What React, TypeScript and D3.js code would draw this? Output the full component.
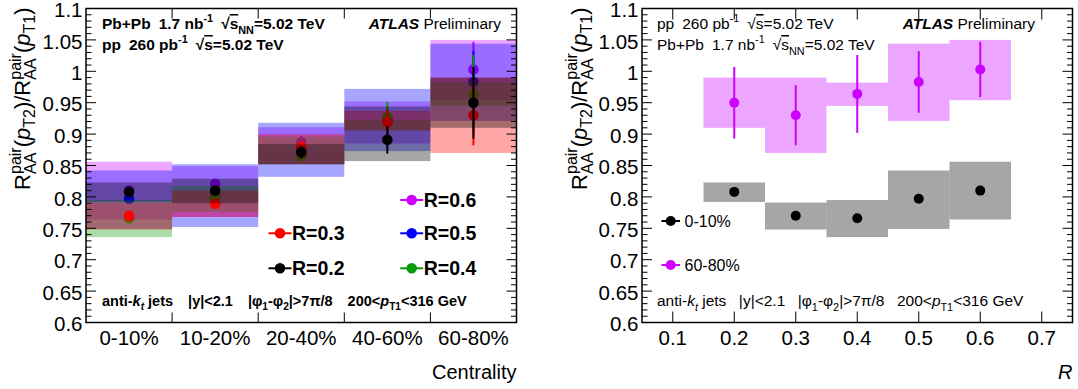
import React from "react";
import * as d3 from "d3";

// ---------------- data ----------------
const centralityBins = ["0-10%", "10-20%", "20-40%", "40-60%", "60-80%"];
const jetRadii = [0.2, 0.3, 0.4, 0.5, 0.6];
const radiusLabels = ["R=0.2", "R=0.3", "R=0.4", "R=0.5", "R=0.6"];
const radiusColors = ["#000000", "#ff0000", "#0a9a0a", "#0000ff", "#cc00ff"];

// values per centrality bin, one array per jet radius
const valR02 = [0.808, 0.81, 0.871, 0.891, 0.95];
const statR02 = [0.005, 0.007, 0.01, 0.022, 0.057];
const sysLoR02 = [0.792, 0.79, 0.852, 0.857, 0.91];
const sysHiR02 = [0.823, 0.829, 0.884, 0.944, 0.99];

const valR03 = [0.77, 0.789, 0.879, 0.919, 0.93];
const statR03 = [0.005, 0.007, 0.01, 0.02, 0.048];
const sysLoR03 = [0.748, 0.768, 0.852, 0.906, 0.87];
const sysHiR03 = [0.791, 0.81, 0.9, 0.937, 0.99];

const valR04 = [0.766, 0.798, 0.866, 0.927, 0.964];
const statR04 = [0.006, 0.007, 0.011, 0.024, 0.062];
const sysLoR04 = [0.736, 0.776, 0.852, 0.906, 0.945];
const sysHiR04 = [0.795, 0.817, 0.896, 0.923, 0.982];

const valR05 = [0.797, 0.801, 0.875, 0.921, 0.983];
const statR05 = [0.005, 0.007, 0.01, 0.02, 0.049];
const sysLoR05 = [0.749, 0.752, 0.832, 0.873, 0.921];
const sysHiR05 = [0.842, 0.852, 0.918, 0.972, 1.044];

const valR06 = [0.81, 0.821, 0.887, 0.923, 1.003];
const statR06 = [0.005, 0.007, 0.01, 0.02, 0.044];
const sysLoR06 = [0.764, 0.768, 0.852, 0.885, 0.954];
const sysHiR06 = [0.856, 0.849, 0.911, 0.952, 1.05];

const yMajorTicks = [0.6, 0.65, 0.7, 0.75, 0.8, 0.85, 0.9, 0.95, 1.0, 1.05, 1.1];
const yMinorTicks = d3.range(60, 111).map((k) => k / 100);
const rAxisTicks = [0.1, 0.2, 0.3, 0.4, 0.5, 0.6, 0.7];
const rightCentralities = ["0-10%", "60-80%"]; // bins 0 and 4
const rightColors = ["#000000", "#cc00ff"];

const series = [
  { val: valR02, stat: statR02, lo: sysLoR02, hi: sysHiR02 },
  { val: valR03, stat: statR03, lo: sysLoR03, hi: sysHiR03 },
  { val: valR04, stat: statR04, lo: sysLoR04, hi: sysHiR04 },
  { val: valR05, stat: statR05, lo: sysLoR05, hi: sysHiR05 },
  { val: valR06, stat: statR06, lo: sysLoR06, hi: sysHiR06 },
];

// ---------------- layout ----------------
const W = 1078;
const H = 389;
const TOP = 8.5;
const BOTTOM = 322.5;
const L1 = 86;
const R1 = 516.5;
const L2 = 642;
const R2 = 1072.5;
const FONT = "'Liberation Sans', Arial, Helvetica, sans-serif";
const ALPHA = 0.35;

const y = d3.scaleLinear().domain([0.6, 1.1]).range([BOTTOM, TOP]);
const xCent = d3.scaleBand().domain(centralityBins).range([L1, R1]).padding(0);
const xR = d3.scaleLinear().domain([0.05, 0.75]).range([L2, R2]);

type Seg = { t: string; sup?: boolean; sub?: boolean; it?: boolean; b?: boolean; dx?: number; ov?: boolean };

function Rich({ segs, size }: { segs: Seg[]; size: number }) {
  let cur = 0;
  return (
    <>
      {segs.map((s, i) => {
        const target = s.sup ? -0.42 * size : s.sub ? 0.3 * size : 0;
        const dy = target - cur;
        cur = target;
        const fs = s.sup || s.sub ? size * 0.7 : size;
        return (
          <tspan
            key={i}
            dy={dy}
            dx={s.dx || 0}
            fontSize={fs}
            fontStyle={s.it ? "italic" : undefined}
            fontWeight={s.b ? "bold" : undefined}
            textDecoration={s.ov ? "overline" : undefined}
          >
            {s.t}
          </tspan>
        );
      })}
    </>
  );
}

function fmt(v: number) {
  return String(+v.toFixed(2));
}

function YTitle({ x }: { x: number }) {
  const size = 22;
  const s = 16;
  const pairW = 1.667 * s;
  const aaW = 1.334 * s;
  return (
    <text transform="rotate(-90)" x={-TOP + 1} y={x} textAnchor="end" fontFamily={FONT} fontSize={size}>
      <tspan>R</tspan>
      <tspan fontSize={s} dy={-9.5}>pair</tspan>
      <tspan fontSize={s} dx={-pairW} dy={15.5}>AA</tspan>
      <tspan dx={pairW - aaW} dy={-6}>(</tspan>
      <tspan fontStyle="italic">p</tspan>
      <tspan fontSize={s} dy={5}>T2</tspan>
      <tspan dy={-5}>)/R</tspan>
      <tspan fontSize={s} dy={-9.5}>pair</tspan>
      <tspan fontSize={s} dx={-pairW} dy={15.5}>AA</tspan>
      <tspan dx={pairW - aaW} dy={-6}>(</tspan>
      <tspan fontStyle="italic">p</tspan>
      <tspan fontSize={s} dy={5}>T1</tspan>
      <tspan dy={-5}>)</tspan>
    </text>
  );
}

function YAxis({ left, right }: { left: number; right: number }) {
  return (
    <g>
      {yMinorTicks.map((v, i) => {
        const major = i % 5 === 0;
        const len = major ? 10 : 5.5;
        return (
          <g key={i}>
            <line x1={left} x2={left + len} y1={y(v)} y2={y(v)} stroke="#000" strokeWidth={1} />
            <line x1={right} x2={right - len} y1={y(v)} y2={y(v)} stroke="#000" strokeWidth={1} />
          </g>
        );
      })}
      {yMajorTicks.map((v, i) => (
        <text key={i} x={left - 3.5} y={y(v)} dy="0.42em" textAnchor="end" fontFamily={FONT} fontSize={20.5}>
          {fmt(v)}
        </text>
      ))}
    </g>
  );
}

function ErrorPoint({ cx, v, e, color, r }: { cx: number; v: number; e: number; color: string; r: number }) {
  return (
    <g>
      <line x1={cx} x2={cx} y1={y(v + e)} y2={y(v - e)} stroke={color} strokeWidth={2} />
      <circle cx={cx} cy={y(v)} r={r} fill={color} />
    </g>
  );
}

const cutsSegs = (gap: number): Seg[] => [
  { t: "anti-" },
  { t: "k", it: true },
  { t: "t", sub: true, it: true },
  { t: " jets" },
  { t: "|y|<2.1", dx: gap },
  { t: "|φ", dx: gap },
  { t: "1", sub: true },
  { t: "-φ" },
  { t: "2", sub: true },
  { t: "|>7π/8" },
  { t: "200<", dx: gap },
  { t: "p", it: true },
  { t: "T1", sub: true },
  { t: "<316 GeV" },
];

const pbpbSegs: Seg[] = [
  { t: "Pb+Pb" },
  { t: "1.7 nb", dx: 8 },
  { t: "-1", sup: true },
  { t: "√", dx: 8 },
  { t: "s", ov: true },
  { t: "NN", sub: true },
  { t: "=5.02 TeV" },
];

const ppSegs: Seg[] = [
  { t: "pp" },
  { t: "260 pb", dx: 8 },
  { t: "-1", sup: true },
  { t: "√", dx: 8 },
  { t: "s", ov: true },
  { t: "=5.02 TeV" },
];

function LeftPanel() {
  const order = [4, 3, 2, 1, 0];
  const bw = xCent.bandwidth();
  const legendPos = [
    { i: 4, x: 411.7, y: 200 },
    { i: 1, x: 280, y: 233.3 },
    { i: 3, x: 411.7, y: 233.3 },
    { i: 0, x: 280, y: 268.3 },
    { i: 2, x: 411.7, y: 268.3 },
  ];
  return (
    <g>
      {order.map((si) => {
        const s = series[si];
        const c = radiusColors[si];
        return (
          <g key={si}>
            {centralityBins.map((b, bi) => (
              <rect
                key={b}
                x={xCent(b)}
                width={bw}
                y={y(s.hi[bi])}
                height={y(s.lo[bi]) - y(s.hi[bi])}
                fill={c}
                fillOpacity={ALPHA}
              />
            ))}
            {centralityBins.map((b, bi) => (
              <ErrorPoint key={b} cx={(xCent(b) as number) + bw / 2} v={s.val[bi]} e={s.stat[bi]} color={c} r={5.3} />
            ))}
          </g>
        );
      })}
      <YAxis left={L1} right={R1} />
      {centralityBins.slice(1).map((b) => (
        <g key={b}>
          <line x1={xCent(b)} x2={xCent(b)} y1={BOTTOM} y2={BOTTOM - 10} stroke="#000" />
          <line x1={xCent(b)} x2={xCent(b)} y1={TOP} y2={TOP + 10} stroke="#000" />
        </g>
      ))}
      {centralityBins.map((b) => (
        <text key={b} x={(xCent(b) as number) + bw / 2} y={345} textAnchor="middle" fontFamily={FONT} fontSize={20.5}>
          {b}
        </text>
      ))}
      <rect x={L1} y={TOP} width={R1 - L1} height={BOTTOM - TOP} fill="none" stroke="#000" strokeWidth={1.5} />
      <text x={R1} y={379} textAnchor="end" fontFamily={FONT} fontSize={20}>
        Centrality
      </text>
      <YTitle x={30} />
      <text x={102} y={29} fontFamily={FONT} fontWeight="bold">
        <Rich size={15.5} segs={pbpbSegs} />
      </text>
      <text x={102} y={50} fontFamily={FONT} fontWeight="bold">
        <Rich size={15.5} segs={ppSegs} />
      </text>
      <text x={501} y={29} textAnchor="end" fontFamily={FONT} fontSize={15.5}>
        <tspan fontWeight="bold" fontStyle="italic">ATLAS</tspan>
        <tspan> Preliminary</tspan>
      </text>
      <text x={102} y={306} fontFamily={FONT} fontWeight="bold">
        <Rich size={14.5} segs={cutsSegs(15)} />
      </text>
      {legendPos.map((p) => (
        <g key={p.i}>
          <line x1={p.x - 11.5} x2={p.x + 11.5} y1={p.y} y2={p.y} stroke={radiusColors[p.i]} strokeWidth={2} />
          <circle cx={p.x} cy={p.y} r={5.3} fill={radiusColors[p.i]} />
          <text x={p.x + 12} y={p.y} dy="0.36em" fontFamily={FONT} fontSize={19.5} fontWeight="bold">
            {radiusLabels[p.i]}
          </text>
        </g>
      ))}
    </g>
  );
}

function RightPanel() {
  const bins = [0, 4];
  const legendY = [221, 265];
  return (
    <g>
      {bins.map((bi, k) => {
        const c = rightColors[k];
        return (
          <g key={bi}>
            {jetRadii.map((r, si) => (
              <rect
                key={r}
                x={xR(r - 0.05)}
                width={xR(r + 0.05) - xR(r - 0.05)}
                y={y(series[si].hi[bi])}
                height={y(series[si].lo[bi]) - y(series[si].hi[bi])}
                fill={c}
                fillOpacity={ALPHA}
              />
            ))}
            {jetRadii.map((r, si) => (
              <ErrorPoint key={r} cx={xR(r)} v={series[si].val[bi]} e={series[si].stat[bi]} color={c} r={5} />
            ))}
          </g>
        );
      })}
      <YAxis left={L2} right={R2} />
      {rAxisTicks.map((t) => (
        <g key={t}>
          <line x1={xR(t)} x2={xR(t)} y1={BOTTOM} y2={BOTTOM - 11} stroke="#000" />
          <line x1={xR(t)} x2={xR(t)} y1={TOP} y2={TOP + 11} stroke="#000" />
          <text x={xR(t)} y={345} textAnchor="middle" fontFamily={FONT} fontSize={20.5}>
            {fmt(t)}
          </text>
        </g>
      ))}
      <rect x={L2} y={TOP} width={R2 - L2} height={BOTTOM - TOP} fill="none" stroke="#000" strokeWidth={1.5} />
      <text x={R2} y={379} textAnchor="end" fontFamily={FONT} fontSize={20} fontStyle="italic">
        R
      </text>
      <YTitle x={586.5} />
      <text x={657} y={29} fontFamily={FONT}>
        <Rich size={15.5} segs={ppSegs} />
      </text>
      <text x={657} y={50} fontFamily={FONT}>
        <Rich size={15.5} segs={pbpbSegs} />
      </text>
      <text x={1035} y={29} textAnchor="end" fontFamily={FONT} fontSize={15.5}>
        <tspan fontWeight="bold" fontStyle="italic">ATLAS</tspan>
        <tspan> Preliminary</tspan>
      </text>
      <text x={657} y={306} fontFamily={FONT}>
        <Rich size={15.5} segs={cutsSegs(12.5)} />
      </text>
      {rightCentralities.map((lab, k) => (
        <g key={lab}>
          <line x1={661.5} x2={680} y1={legendY[k]} y2={legendY[k]} stroke={rightColors[k]} strokeWidth={2} />
          <circle cx={670.7} cy={legendY[k]} r={5} fill={rightColors[k]} />
          <text x={684.5} y={legendY[k]} dy="0.36em" fontFamily={FONT} fontSize={16}>
            {lab}
          </text>
        </g>
      ))}
    </g>
  );
}

export default function App() {
  return (
    <svg
      width={W}
      height={H}
      viewBox={`0 0 ${W} ${H}`}
      style={{ position: "absolute", left: 0, top: 0, background: "#fff" }}
    >
      <rect x={0} y={0} width={W} height={H} fill="#fff" />
      <LeftPanel />
      <RightPanel />
    </svg>
  );
}
